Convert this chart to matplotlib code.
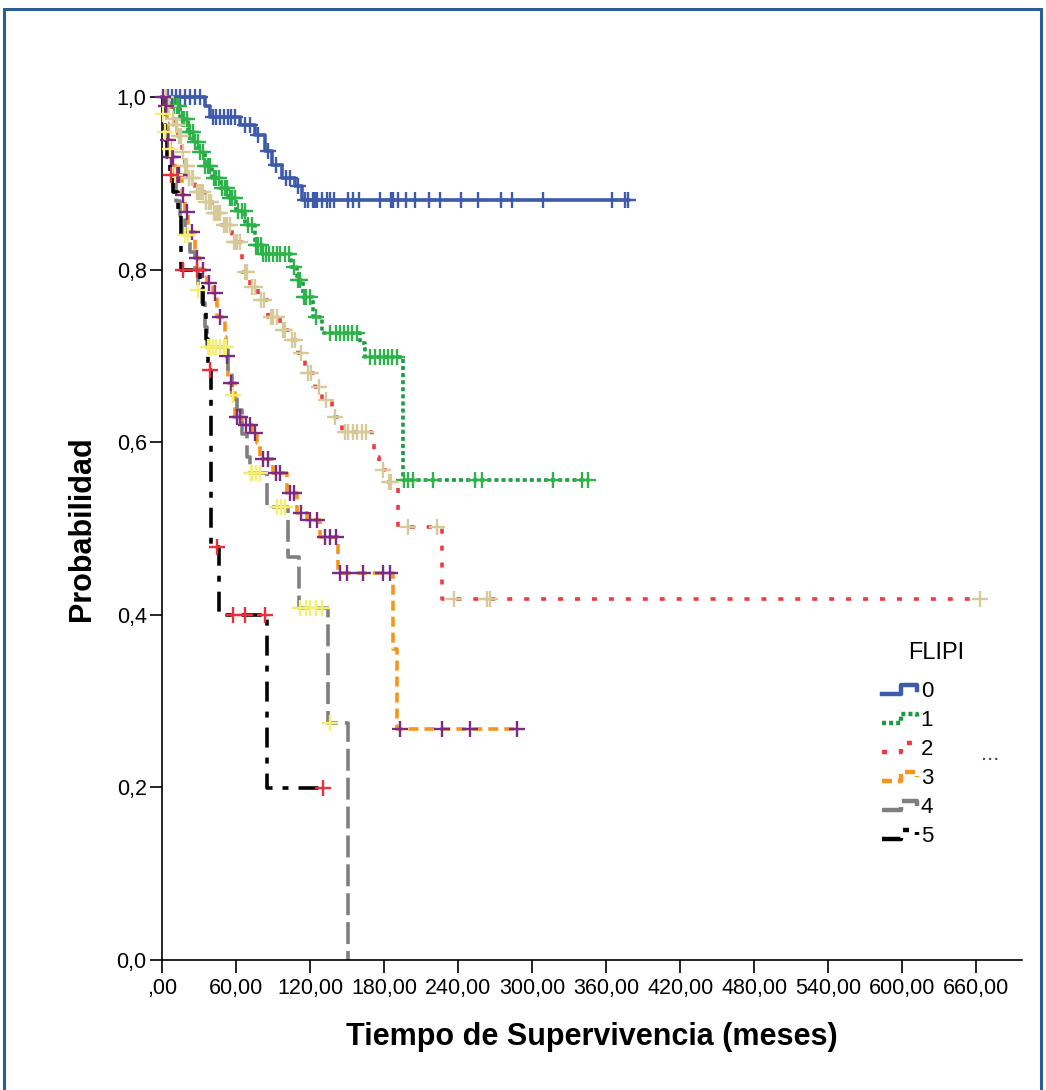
import numpy as np
import matplotlib
matplotlib.use("Agg")
import matplotlib.pyplot as plt
from matplotlib.lines import Line2D
from matplotlib.legend_handler import HandlerBase
from matplotlib.patches import Rectangle

plt.rcParams['font.family'] = ['Liberation Sans', 'DejaVu Sans']
plt.rcParams['lines.scale_dashes'] = False

# Kaplan-Meier curves by FLIPI group (time in months)
groups = ['0', '1', '2', '3', '4', '5']

t0 = [34.9, 38.9, 63.2, 75.4, 83.5, 89.2, 97.3, 107.8, 113.5]
s0 = [0.99, 0.977, 0.968, 0.956, 0.937, 0.921, 0.906, 0.897, 0.881]
c0 = [4.9, 8.1, 11.4, 14.6, 18.6, 22.7, 26.8, 30.8, 41.4, 44, 47, 50, 53.5, 56,
      59.2, 67.3, 71.4, 77.8, 86, 92.4, 100.5, 103.8, 110.3, 116, 118, 122, 124,
      126, 130, 134, 136, 139, 151, 155, 160, 177, 186, 187, 191, 198, 205, 216,
      225, 242, 256, 275, 284, 309, 365, 375, 378]

t1 = [8.1, 14.6, 21.1, 25.1, 29.2, 34.9, 40.5, 47, 53.5, 60, 67.3, 75.4, 81.1,
      104.6, 109.5, 114.3, 122.4, 129.7, 160.5, 164.6, 195.4]
s1 = [0.99, 0.975, 0.96, 0.948, 0.936, 0.92, 0.906, 0.894, 0.883, 0.868, 0.852,
      0.829, 0.818, 0.803, 0.788, 0.768, 0.745, 0.727, 0.715, 0.699, 0.556]
c1 = [10, 12, 14, 16, 18, 20, 22, 23, 25, 27, 29, 31, 33, 35, 37, 39, 42, 44, 46,
      49, 51, 53, 55, 57, 59, 62, 65, 67, 70, 73, 76, 78, 80, 82, 84, 87, 90, 93,
      96, 100, 103, 107, 110, 112, 115, 117, 120, 125, 136, 141, 144, 147.5, 151,
      154, 158, 168.6, 172.7, 176.8, 180, 183, 186.5, 190.5, 196.2, 199.5, 203.5,
      219.7, 253.8, 259.5, 317, 340.5, 345.4]

t2 = [4.9, 8.1, 10.5, 13, 16.2, 18.6, 21.1, 26.8, 34.9, 40.5, 48.6, 56.8, 64.9,
      71.4, 77.8, 85.9, 95.7, 102.2, 110.3, 116, 124, 129.7, 137.8, 146, 170.3,
      171.9, 176, 181.6, 191.3, 227]
s2 = [0.99, 0.975, 0.967, 0.955, 0.936, 0.92, 0.906, 0.89, 0.878, 0.866, 0.852,
      0.832, 0.797, 0.78, 0.765, 0.745, 0.73, 0.718, 0.703, 0.68, 0.664, 0.649,
      0.629, 0.612, 0.603, 0.583, 0.568, 0.554, 0.502, 0.418]
c2 = [3, 6, 9, 11, 12, 14, 15, 17, 19, 20, 22, 24, 25, 28, 30, 32, 33, 36, 38, 40,
      42, 44, 45, 47, 50, 52, 53, 55, 58, 60, 61, 63, 67, 69, 73, 75, 80, 83, 88,
      90, 93, 98, 100, 105, 108, 113, 118, 121, 127, 133, 140, 148, 151, 155, 158,
      162, 165, 179, 184, 186, 199, 223, 237, 263, 266, 663]

t3 = [2.4, 4.1, 4.9, 6.5, 10.5, 16.2, 18.6, 21.1, 26.8, 30.8, 36.5, 41.4, 44.6,
      51.1, 51.9, 53.5, 59.2, 64.9, 73, 77, 79.5, 90, 101.4, 109.5, 117.6, 128.1,
      142.7, 187.3, 190.5]
s3 = [0.99, 0.97, 0.95, 0.93, 0.91, 0.886, 0.867, 0.843, 0.813, 0.8, 0.785, 0.773,
      0.745, 0.722, 0.7, 0.669, 0.629, 0.62, 0.611, 0.599, 0.58, 0.564, 0.541,
      0.518, 0.51, 0.49, 0.448, 0.36, 0.268]
c3 = [1, 3, 5, 7, 9, 12, 14, 17, 20, 24, 28, 33, 38, 43, 47, 53, 56, 61, 63, 68,
      71, 75, 82, 86, 92, 96, 104, 107, 113, 120, 125.7, 132.2, 136.2, 141, 144.3,
      150, 163, 179, 185, 193, 227, 249.7, 287.8]

t4 = [0.8, 2.4, 4.9, 8.1, 11.4, 14.6, 18.6, 22.7, 26.8, 29.2, 32.4, 34.9, 36.5,
      53.5, 56.8, 60.8, 64.9, 68.9, 71.4, 85.1, 102.2, 111, 134.6, 150.8]
s4 = [0.98, 0.96, 0.94, 0.91, 0.88, 0.86, 0.84, 0.82, 0.8, 0.776, 0.761, 0.733,
      0.71, 0.68, 0.655, 0.637, 0.61, 0.583, 0.564, 0.525, 0.467, 0.408, 0.275, 0.0]
c4 = [1, 2.4, 6.5, 10.5, 18.6, 21.1, 29.2, 37.5, 38.9, 41.4, 43.8, 47, 50.3, 51.9,
      57.6, 72.5, 73, 76.2, 79.5, 93.2, 96.5, 99.7, 112, 116.8, 120, 124.9, 129.7,
      136.2]

t5 = [0.8, 2.4, 4.1, 6.5, 8.9, 13, 15.4, 30.8, 33.2, 35.7, 37.3, 39.7, 46.2, 85.1]
s5 = [0.975, 0.95, 0.93, 0.91, 0.89, 0.865, 0.8, 0.78, 0.757, 0.72, 0.684, 0.478,
      0.4, 0.199]
c5 = [7.5, 17, 28, 38.5, 44.6, 57.6, 67.3, 83.5, 130.5]

times = [t0, t1, t2, t3, t4, t5]
survs = [s0, s1, s2, s3, s4, s5]
censored = [c0, c1, c2, c3, c4, c5]
ends = [378, 345.4, 663, 287.8, 150.8, 130.5]

x_ticks = [0, 60, 120, 180, 240, 300, 360, 420, 480, 540, 600, 660]
x_ticklabels = [',00', '60,00', '120,00', '180,00', '240,00', '300,00', '360,00',
                '420,00', '480,00', '540,00', '600,00', '660,00']
y_ticks = [0.0, 0.2, 0.4, 0.6, 0.8, 1.0]
y_ticklabels = ['0,0', '0,2', '0,4', '0,6', '0,8', '1,0']

line_colors = ['#3E5BAB', '#1C9A45', '#EE3A43', '#F7941E', '#7F7F7F', '#000000']
cens_colors = ['#3E5BAB', '#2DB34A', '#D5CB98', '#7B2B83', '#F6EE6E', '#EE2D3A']
line_styles = ['-', (0, (2.9, 2.2)), (0, (3.6, 8.6)), (0, (7.2, 4.3)),
               (0, (15.8, 5.0)), (0, (14.4, 7.2, 4.3, 7.2))]


class StepHandler(HandlerBase):
    # SPSS-like step icon in the legend
    def create_artists(self, legend, orig_handle, xdescent, ydescent,
                       width, height, fontsize, trans):
        x0 = -xdescent
        x1 = x0 + width
        xm = x0 + 0.55 * width
        lo = -ydescent + 0.2 * height
        hi = -ydescent + 0.75 * height
        line = Line2D([x0, xm, xm, x1, x1], [lo, lo, hi, hi, 0.45 * height - ydescent])
        line.update_from(orig_handle)
        line.set_linewidth(3.2)
        line.set_transform(trans)
        return [line]


fig = plt.figure(figsize=(10.46, 10.90), dpi=100)
ax = fig.add_axes([162 / 1046, 130 / 1090, 860 / 1046, 863 / 1090])

handles = []
for i in range(6):
    t = np.concatenate([[0.0], times[i], [ends[i]]])
    s = np.concatenate([[1.0], survs[i], [survs[i][-1]]])
    ln, = ax.step(t, s, where='post', color=line_colors[i], lw=2.6,
                  linestyle=line_styles[i], clip_on=False, zorder=2)
    handles.append(ln)

for i in range(6):
    tc = np.asarray(censored[i])
    idx = np.searchsorted(times[i], tc, side='right') - 1
    sc = np.where(idx >= 0, np.asarray(survs[i])[np.clip(idx, 0, None)], 1.0)
    ax.plot(tc, sc, linestyle='none', marker='+', ms=11, mew=1.7,
            color=cens_colors[i], clip_on=False, zorder=3)

ax.set_xlim(0, 697)
ax.set_ylim(0, 1.0)
ax.set_xticks(x_ticks)
ax.set_xticklabels(x_ticklabels)
ax.set_yticks(y_ticks)
ax.set_yticklabels(y_ticklabels)
ax.spines['top'].set_visible(False)
ax.spines['right'].set_visible(False)
for sp in ('left', 'bottom'):
    ax.spines[sp].set_linewidth(1.2)
ax.tick_params(axis='both', direction='out', length=9, width=1.2, labelsize=15.5)
ax.tick_params(axis='y', pad=2)
ax.tick_params(axis='x', pad=4)

ax.set_xlabel('Tiempo de Supervivencia (meses)', fontsize=22, fontweight='bold')
ax.set_ylabel('Probabilidad', fontsize=22, fontweight='bold')
ax.xaxis.set_label_coords(0.5, -0.072)
ax.yaxis.set_label_coords(-0.075, 0.5)

leg = ax.legend(handles, groups, handler_map={Line2D: StepHandler()},
                loc='center left', bbox_to_anchor=(0.837, 0.227),
                frameon=False, fontsize=16, borderpad=0, borderaxespad=0,
                handlelength=1.6, handletextpad=0.15, labelspacing=0.36)
ax.text(0.9, 0.3557, 'FLIPI', transform=ax.transAxes, fontsize=17,
        ha='center', va='center')
ax.text(0.963, 0.238, '...', transform=ax.transAxes, fontsize=16,
        ha='center', va='center', color='#4B3F72')

fig.add_artist(Rectangle((4 / 1046, -0.02), 1037 / 1046, 1.02 - 9 / 1090,
                         transform=fig.transFigure, fill=False,
                         edgecolor='#2C5C94', lw=2.2))

fig.savefig('out.png', dpi=100)
